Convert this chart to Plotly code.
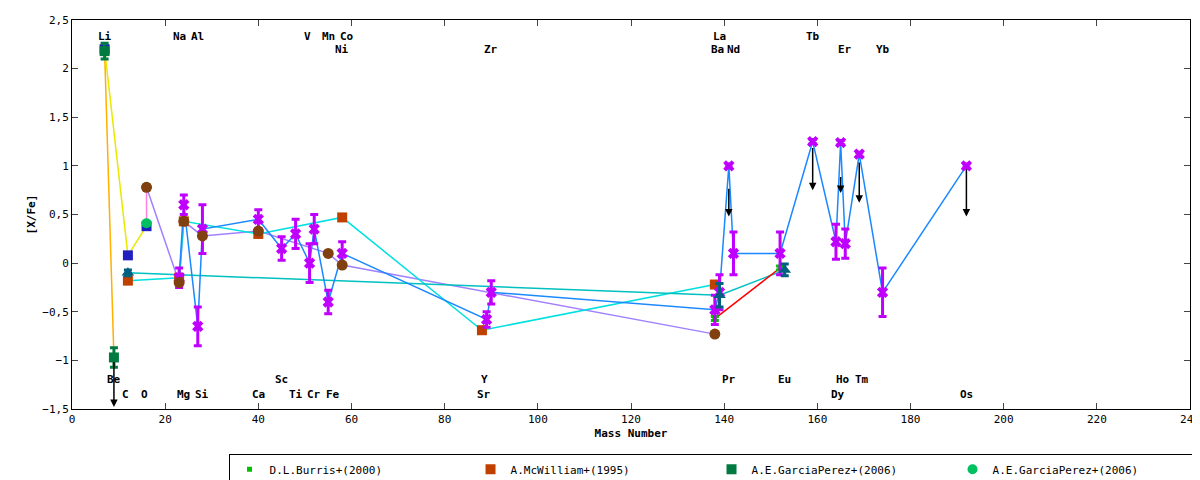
import plotly.graph_objects as go

# ---- data: (mass number, [X/Fe], error) per study ----
burris_x = [138, 152]
burris_y = [-0.57, -0.05]
burris_e = [0.02, 0.02]

mcw_x = [12, 23, 24, 40, 58, 88, 138]
mcw_y = [-0.18, -0.15, 0.43, 0.30, 0.47, -0.69, -0.22]
mcw_e = [0.03, 0.03, 0.03, 0.03, 0.03, 0.03, 0.03]

gp1_x = [7, 9]
gp1_y = [2.18, -0.97]
gp1_e = [0.08, 0.1]

gp2_x = [16, 16]
gp2_y = [0.78, 0.41]
gp2_e = [0.02, 0.02]

john_x = [23, 24, 27, 28, 40, 45, 48, 51, 52, 55, 58, 89, 90, 138, 139, 141, 142, 152, 159, 164, 165, 166, 169, 174, 192]
john_y = [-0.15, 0.60, -0.65, 0.35, 0.45, 0.15, 0.30, 0.00, 0.35, -0.40, 0.10, -0.58, -0.30, -0.48, -0.30,
          1.00, 0.10, 0.10, 1.25, 0.22, 1.24, 0.20, 1.12, -0.30, 1.00]
john_e = [0.10, 0.10, 0.20, 0.25, 0.10, 0.12, 0.15, 0.20, 0.15, 0.12, 0.12, 0.08, 0.12, 0.15, 0.18,
          0.02, 0.22, 0.22, 0.02, 0.18, 0.02, 0.15, 0.02, 0.25, 0.02]

grat_x = [7, 12, 16]
grat_y = [2.20, 0.08, 0.38]
grat_e = [0.03, 0.03, 0.03]

jon_x = [16, 23, 24, 28, 40, 55, 58, 138]
jon_y = [0.78, -0.20, 0.43, 0.28, 0.33, 0.10, -0.02, -0.73]
jon_e = [0.02, 0.02, 0.02, 0.02, 0.02, 0.02, 0.02, 0.02]

sim_x = [12, 139, 153]
sim_y = [-0.10, -0.33, -0.07]
sim_e = [0.03, 0.12, 0.06]

# upper limits (arrow from value down)
ul_x = [9, 141, 159, 165, 169, 192]
ul_top = [-1.0, 0.78, 1.20, 0.90, 1.05, 0.98]
ul_bot = [-1.48, 0.48, 0.75, 0.72, 0.62, 0.48]

# element labels
top1_lab = ["Li", "Na", "Al", "V", "Mn", "Co", "La", "Tb"]
top1_x = [7, 23, 27, 50.5, 55, 59, 139, 159]
top2_lab = ["Ni", "Zr", "Ba", "Nd", "Er", "Yb"]
top2_x = [58, 90, 138.5, 142, 166, 174]
bot1_lab = ["Be", "Sc", "Y", "Pr", "Eu", "Ho", "Tm"]
bot1_x = [9, 45, 88.5, 141, 153, 165.5, 169.5]
bot2_lab = ["C", "O", "Mg", "Si", "Ca", "Ti", "Cr", "Fe", "Sr", "Dy", "Os"]
bot2_x = [11.5, 15.5, 24, 28, 40, 48, 52, 56, 88.5, 164.5, 192]

FONT = "DejaVu Sans Mono"
fig = go.Figure()

# connecting lines (own colours, not in legend)
lines = [
    (gp1_x, gp1_y, "#ffb000"),
    (grat_x, grat_y, "#e8e800"),
    (gp2_x, gp2_y, "#ff80e0"),
    (jon_x, jon_y, "#a080ff"),
    (mcw_x, mcw_y, "#00e0e0"),
    (sim_x, sim_y, "#00c0c0"),
    (burris_x, burris_y, "#ff0000"),
    (john_x, john_y, "#1a88ff"),
]
for lx, ly, c in lines:
    fig.add_trace(go.Scatter(x=lx, y=ly, mode="lines", line=dict(color=c, width=1.5),
                             showlegend=False, hoverinfo="skip"))

series = [
    ("D.L.Burris+(2000)", burris_x, burris_y, burris_e, "#00c000", "square", 5),
    ("A.McWilliam+(1995)", mcw_x, mcw_y, mcw_e, "#c04000", "square", 10),
    ("J.A.Johnson+(2002)", john_x, john_y, john_e, "#c000ff", "x", 10),
    ("R.G.Gratton+(2000)", grat_x, grat_y, grat_e, "#2020c0", "square", 10),
    ("A.E.GarciaPerez+(2006)", gp1_x, gp1_y, gp1_e, "#007a40", "square", 10),
    ("A.E.GarciaPerez+(2006) ", gp2_x, gp2_y, gp2_e, "#00c060", "circle", 10),
    ("K.Jonsell+(2005)", jon_x, jon_y, jon_e, "#804010", "circle", 11),
    ("J.Simmerer+(2004)", sim_x, sim_y, sim_e, "#006080", "triangle-up", 11),
]
for i, (name, sx, sy, se, c, sym, sz) in enumerate(series):
    # legend order: row 1 Burris, McWilliam, GP, GP; row 2 Johnson, Gratton, Jonsell, Simmerer
    rank = [1, 2, 5, 6, 3, 4, 7, 8][i]
    fig.add_trace(go.Scatter(
        x=sx, y=sy, mode="markers", name=name, legendrank=rank,
        marker=dict(color=c, symbol=sym, size=sz),
        error_y=dict(type="data", array=se, color=c, thickness=3, width=4),
    ))

for x, y0, y1 in zip(ul_x, ul_top, ul_bot):
    fig.add_annotation(x=x, y=y1, ax=x, ay=y0, xref="x", yref="y", axref="x", ayref="y",
                       showarrow=True, arrowhead=2, arrowsize=1, arrowwidth=1.5,
                       arrowcolor="black", text="")

for labs, xs, yv in [(top1_lab, top1_x, 2.33), (top2_lab, top2_x, 2.2),
                     (bot1_lab, bot1_x, -1.2), (bot2_lab, bot2_x, -1.35)]:
    for t, x in zip(labs, xs):
        fig.add_annotation(x=x, y=yv, text="<b>%s</b>" % t, showarrow=False,
                           font=dict(family=FONT, size=11, color="black"))

axis = dict(showline=True, linecolor="black", linewidth=1, mirror="ticks", ticks="inside",
            ticklen=6, showgrid=False, zeroline=False, automargin=False,
            tickfont=dict(family=FONT, size=11, color="black"))
fig.update_xaxes(range=[0, 240], dtick=20, **axis,
                 title=dict(text="<b>Mass Number</b>", font=dict(family=FONT, size=11), standoff=4))
fig.update_yaxes(range=[-1.5, 2.5], dtick=0.5, **axis,
                 title=dict(text="<b>[X/Fe]</b>", font=dict(family=FONT, size=11), standoff=4))

fig.update_layout(
    width=1200, height=480, separators=",.",
    margin=dict(l=64, r=18, t=12, b=79, autoexpand=False),
    plot_bgcolor="white", paper_bgcolor="white",
    font=dict(family=FONT, size=11, color="black"),
    legend=dict(orientation="h", x=0.14, y=-0.115, xanchor="left", yanchor="top",
                entrywidth=196, bordercolor="black", borderwidth=1,
                font=dict(family=FONT, size=11)),
)

fig.write_html("out.html")
